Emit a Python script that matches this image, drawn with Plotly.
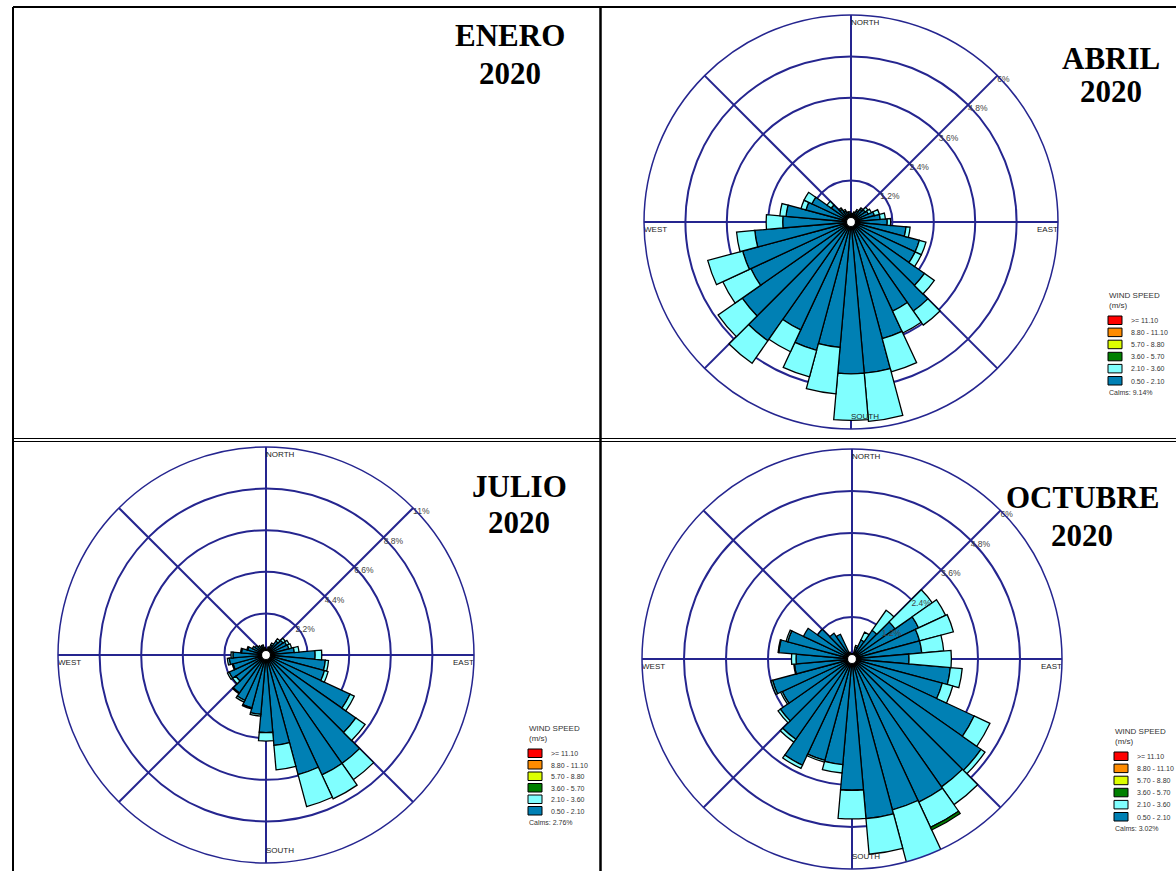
import plotly.graph_objects as go

W, H = 1176, 871

directions = list(range(0, 360, 10))

speed_classes = [">= 11.10", "8.80 - 11.10", "5.70 - 8.80", "3.60 - 5.70", "2.10 - 3.60", "0.50 - 2.10"]
class_colors = ["#FF0000", "#FF8C00", "#DDFF00", "#008000", "#80FFFF", "#0080B4"]

# ABRIL 2020 : frequency (%) per direction for each speed class
abril_050_210 = [0.25, 0.25, 0.3, 0.35, 0.45, 0.5, 0.55, 0.7, 0.85, 1.05, 1.6, 2.05,
                 2.05, 2.6, 3.15, 2.85, 3.5, 4.4, 4.4, 3.65, 3.85, 3.45, 4.2, 3.85,
                 3.2, 3.25, 2.8, 1.98, 1.89, 1.35, 1.25, 0.7, 0.45, 0.35, 0.3, 0.3]
abril_210_360 = [0, 0, 0, 0.05, 0.05, 0.1, 0.1, 0.15, 0.15, 0.1, 0.12, 0.2,
                 0.2, 0.35, 0.5, 0.7, 1.0, 1.4, 1.35, 1.35, 0.8, 0.7, 0.8, 0.85,
                 0.9, 1.05, 0.53, 0.48, 0.18, 0.15, 0.25, 0.15, 0.05, 0.05, 0, 0]
abril_calms = "9.14%"
abril_ticks = [1.2, 2.4, 3.6, 4.8, 6]

# JULIO 2020
julio_050_210 = [0.3, 0.3, 0.4, 0.6, 0.9, 1.1, 1.2, 1.25, 1.5, 2.6, 3.15, 3.2,
                 4.9, 5.8, 7.0, 7.0, 6.55, 4.8, 4.1, 3.15, 2.9, 2.65, 2.45, 1.95,
                 2.15, 1.8, 1.95, 1.75, 1.3, 1.0, 0.8, 0.7, 0.6, 0.5, 0.55, 0.4]
julio_210_360 = [0, 0, 0.05, 0.1, 0.15, 0.15, 0.15, 0.15, 0.25, 0.35, 0.17, 0.2,
                 0.25, 0.6, 1.05, 1.4, 1.75, 1.3, 0.45, 0.1, 0.05, 0.1, 0.05, 0.2,
                 0.1, 0.05, 0.1, 0.1, 0.05, 0.05, 0, 0, 0, 0, 0, 0]
julio_calms = "2.76%"
julio_ticks = [2.2, 4.4, 6.6, 8.8, 11]

# OCTUBRE 2020
octubre_050_210 = [0.15, 0.15, 0.35, 0.6, 1.0, 1.5, 2.1, 2.0, 2.0, 1.63, 2.82, 2.67,
                   3.85, 4.5, 4.46, 4.51, 4.46, 4.58, 3.75, 3.03, 3.0, 3.35, 2.8, 2.5,
                   2.2, 2.35, 1.65, 1.6, 2.1, 1.9, 1.53, 1.2, 0.9, 0.78, 0.2, 0.15]
octubre_210_360 = [0, 0, 0.05, 0.25, 0.7, 1.3, 0.85, 1.0, 0.63, 1.21, 0.34, 0.31,
                   0.5, 0.14, 0.62, 0.8, 1.6, 1.02, 0.82, 0.24, 0.05, 0.1, 0.1, 0.08,
                   0.05, 0.05, 0.02, 0.13, 0.02, 0.05, 0, 0, 0, 0, 0, 0]
octubre_360_570 = [0, 0, 0, 0, 0, 0, 0, 0, 0, 0, 0, 0,
                   0, 0, 0, 0.08, 0.07, 0, 0, 0, 0, 0, 0, 0,
                   0, 0, 0, 0, 0, 0, 0, 0, 0, 0, 0, 0]
octubre_calms = "3.02%"
octubre_ticks = [1.2, 2.4, 3.6, 4.8, 6]

NAVY = "#25258F"
SANS = "Liberation Sans, Arial, sans-serif"
SERIF = "Liberation Serif, Times New Roman, serif"

fig = go.Figure()

def px(x):
    return x / W

def py(y):
    return 1 - y / H

################################################################################

def add_rose(pid, segs, ticks, cx, cy, R):
    rmax = ticks[-1]
    # stacked bars, innermost class first
    for vals, color in segs:
        fig.add_trace(go.Barpolar(
            r=vals, theta=directions, width=[10] * len(directions),
            marker=dict(color=color, line=dict(color="black", width=1.3)),
            showlegend=False, hoverinfo="skip", subplot=pid))
    # white dot at the centre
    fig.add_trace(go.Scatterpolar(
        r=[0], theta=[0], mode="markers",
        marker=dict(size=9, color="white", line=dict(color="black", width=1.2)),
        showlegend=False, hoverinfo="skip", subplot=pid))
    # ring labels along the north-east spoke
    fig.add_trace(go.Scatterpolar(
        r=ticks, theta=[45] * len(ticks), mode="text",
        text=["%g%%" % t for t in ticks], textposition="bottom right",
        textfont=dict(family=SANS, size=8.5, color="#444"),
        showlegend=False, hoverinfo="skip", subplot=pid))
    # compass names inside the outer ring
    fig.add_trace(go.Scatterpolar(
        r=[rmax * (1 - 8 / R), rmax, rmax * (1 - 12 / R), rmax],
        theta=[0, 91.2, 180, 268.8], mode="text",
        text=["NORTH", "EAST", "SOUTH", "WEST"],
        textposition=["middle right", "bottom left", "middle right", "bottom right"],
        textfont=dict(family=SANS, size=8, color="#222"),
        showlegend=False, hoverinfo="skip", subplot=pid))
    fig.update_layout({pid: dict(
        domain=dict(x=[px(cx - R), px(cx + R)], y=[py(cy + R), py(cy - R)]),
        bgcolor="white",
        barmode="stack", bargap=0,
        angularaxis=dict(rotation=90, direction="clockwise",
                         tickvals=[0, 45, 90, 135, 180, 225, 270, 315],
                         showticklabels=False, ticks="",
                         showgrid=True, gridcolor=NAVY, gridwidth=1.5,
                         showline=True, linecolor=NAVY, linewidth=1.5),
        radialaxis=dict(range=[0, rmax], tickvals=ticks,
                        showticklabels=False, showline=False, ticks="",
                        showgrid=True, gridcolor=NAVY, gridwidth=1.5),
    )})


def add_legend(x0, y0, step, calms):
    fig.add_annotation(x=px(x0), y=py(y0), text="WIND SPEED<br>(m/s)", showarrow=False,
                       xanchor="left", yanchor="top", align="left",
                       font=dict(family=SANS, size=8, color="#333"))
    by = y0 + 27
    for i, (lab, col) in enumerate(zip(speed_classes, class_colors)):
        top = by + i * step
        fig.add_shape(type="rect", xref="paper", yref="paper",
                      x0=px(x0 + 1), x1=px(x0 + 15), y0=py(top), y1=py(top + 8.5),
                      fillcolor=col, line=dict(color="black", width=1))
        fig.add_annotation(x=px(x0 + 22), y=py(top + 4.5), text=lab, showarrow=False,
                           xanchor="left", yanchor="middle",
                           font=dict(family=SANS, size=7, color="#333"))
    fig.add_annotation(x=px(x0), y=py(by + 6 * step + 4), text="Calms: " + calms,
                       showarrow=False, xanchor="left", yanchor="middle",
                       font=dict(family=SANS, size=7, color="#333"))


def add_title(month, cx, y1, y2):
    for txt, yy in ((month, y1), ("2020", y2)):
        fig.add_annotation(x=px(cx), y=py(yy), text="<b>" + txt + "</b>", showarrow=False,
                           xanchor="center", yanchor="middle",
                           font=dict(family=SERIF, size=31, color="black"))

################################################################################

add_rose("polar", [(abril_050_210, class_colors[5]), (abril_210_360, class_colors[4])],
         abril_ticks, 851, 222, 207)
add_rose("polar2", [(julio_050_210, class_colors[5]), (julio_210_360, class_colors[4])],
         julio_ticks, 266, 655, 208)
add_rose("polar3", [(octubre_050_210, class_colors[5]), (octubre_210_360, class_colors[4]),
                    (octubre_360_570, class_colors[3])],
         octubre_ticks, 852, 659, 210)

add_legend(1107, 289, 12.1, abril_calms)
add_legend(527, 722, 11.5, julio_calms)
add_legend(1113, 725, 12.1, octubre_calms)

add_title("ENERO", 510, 36, 73)
add_title("ABRIL", 1111, 58, 92)
add_title("JULIO", 519, 486, 522)
add_title("OCTUBRE", 1082, 497, 535)

# panel frame
frame = [(13, 7, W, 7, 2), (13, 7, 13, H, 2), (600.5, 7, 600.5, H, 2.5),
         (13, 438.5, W, 438.5, 1.2), (13, 441.5, W, 441.5, 1.2)]
for x0, y0, x1, y1, lw in frame:
    fig.add_shape(type="line", xref="paper", yref="paper",
                  x0=px(x0), y0=py(y0), x1=px(x1), y1=py(y1),
                  line=dict(color="black", width=lw))

fig.update_layout(width=W, height=H, margin=dict(l=0, r=0, t=0, b=0),
                  paper_bgcolor="white", plot_bgcolor="white", showlegend=False)

fig.write_html("out.html", config={"displayModeBar": False},
               post_script="document.body.style.margin='0';")
